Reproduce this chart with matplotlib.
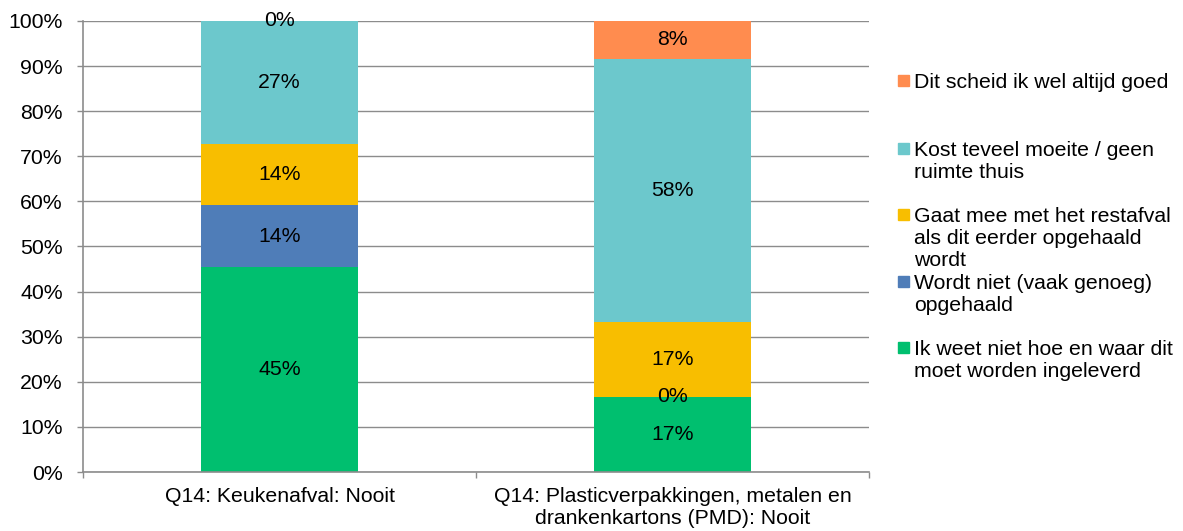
import matplotlib.pyplot as plt
from matplotlib.patches import Rectangle
from matplotlib.ticker import FixedLocator, PercentFormatter

plt.rcParams["font.family"] = ["Liberation Sans", "DejaVu Sans"]

categories = [
    "Q14: Keukenafval: Nooit",
    "Q14: Plasticverpakkingen, metalen en\ndrankenkartons (PMD): Nooit",
]
# stacking order bottom -> top
series_names = [
    "Ik weet niet hoe en waar dit\nmoet worden ingeleverd",
    "Wordt niet (vaak genoeg)\nopgehaald",
    "Gaat mee met het restafval\nals dit eerder opgehaald\nwordt",
    "Kost teveel moeite / geen\nruimte thuis",
    "Dit scheid ik wel altijd goed",
]
ik_weet_niet = [45.45, 16.67]
wordt_niet = [13.64, 0.0]
gaat_mee = [13.64, 16.67]
kost_teveel = [27.27, 58.33]
scheid_goed = [0.0, 8.33]
series_values = [ik_weet_niet, wordt_niet, gaat_mee, kost_teveel, scheid_goed]
colors = ["#00BF6F", "#4F7DB8", "#F8BE00", "#6CC8CC", "#FF8C4F"]

FS = 15.3
GRID = "#8c8c8c"

fig = plt.figure(figsize=(11.83, 5.31), dpi=100)
ax = fig.add_axes([0.0702, 0.1111, 0.6644, 0.8494])

x = list(range(len(categories)))
bottom = [0.0] * len(categories)
for vals, col in zip(series_values, colors):
    ax.bar(x, vals, width=0.4, bottom=bottom, color=col, zorder=2)
    for xi, v, b in zip(x, vals, bottom):
        ax.text(xi, b + v / 2, f"{v:.0f}%", ha="center", va="center",
                fontsize=FS, color="#000000", zorder=3)
    bottom = [b + v for b, v in zip(bottom, vals)]

ax.set_xlim(-0.5, 1.5)
ax.set_ylim(0, 100)
ax.set_yticks(range(0, 101, 10))
ax.yaxis.set_major_formatter(PercentFormatter(decimals=0))
ax.grid(axis="y", color=GRID, linewidth=1.0, zorder=0)
ax.set_axisbelow(True)

ax.xaxis.set_major_locator(FixedLocator([-0.5, 0.5, 1.5]))
ax.set_xticklabels(["", "", ""])
ax.xaxis.set_minor_locator(FixedLocator(x))
ax.set_xticklabels(categories, minor=True)
ax.tick_params(axis="x", which="minor", length=0, pad=11, labelsize=FS)
ax.tick_params(axis="x", which="major", length=4.5, color=GRID, width=1.0)
ax.tick_params(axis="y", length=4.5, color=GRID, width=1.0, pad=10,
               labelsize=FS)

for s in ("top", "right"):
    ax.spines[s].set_visible(False)
for s in ("left", "bottom"):
    ax.spines[s].set_color(GRID)
    ax.spines[s].set_linewidth(1.2)

# legend drawn by hand (top entry = top of stack)
W, H = 1183, 531
legend_y = [80, 148, 214, 281, 347]
for name, col, yc in zip(series_names[::-1], colors[::-1], legend_y):
    fig.patches.append(Rectangle((898 / W, (H - yc - 5.5) / H), 11 / W, 11 / H,
                                 transform=fig.transFigure, color=col))
    fig.text(914 / W, (H - yc + 7) / H, name, ha="left", va="top",
             fontsize=FS, linespacing=1.2)

fig.savefig("out.png", dpi=100)
